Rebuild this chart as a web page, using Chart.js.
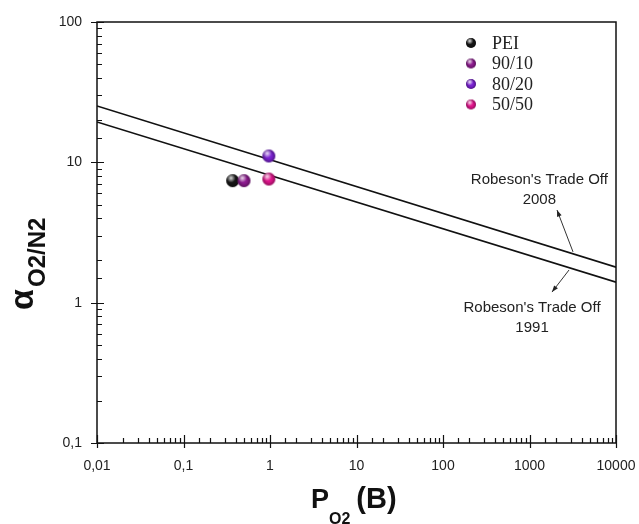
<!DOCTYPE html>
<html>
<head>
<meta charset="utf-8">
<script src="https://cdn.jsdelivr.net/npm/chart.js@4.4.1/dist/chart.umd.min.js"></script>
<style>
  html, body { margin: 0; padding: 0; background: #fff; }
  #wrap { width: 639px; height: 524px; }
</style>
</head>
<body>
<div id="wrap"><canvas id="chart" width="639" height="524"></canvas></div>
<script>
// datos
const sampleNames = ['PEI', '90/10', '80/20', '50/50'];
const sampleP = [0.37, 0.50, 0.97, 0.97];      // P O2 (Barrer)
const sampleAlpha = [7.4, 7.4, 11.1, 7.6];     // alfa O2/N2

const robeson1991P = [0.01, 10000];
const robeson1991Alpha = [19.4, 1.40];
const robeson2008P = [0.01, 10000];
const robeson2008Alpha = [25.2, 1.79];

const xTickValues = [0.01, 0.1, 1, 10, 100, 1000, 10000];
const xTickLabels = ['0,01', '0,1', '1', '10', '100', '1000', '10000'];
const yTickValues = [0.1, 1, 10, 100];
const yTickLabels = ['0,1', '1', '10', '100'];

// anotaciones (texto y flechas, en coordenadas de datos)
const note2008 = { text: ["Robeson's Trade Off", '2008'], p: 1300, a: 7.5, from: [3185, 2.30], to: [2080, 4.57] };
const note1991 = { text: ["Robeson's Trade Off", '1991'], p: 1070, a: 0.915, from: [2865, 1.71], to: [1820, 1.19] };

const sampleColors = ['#151515', '#8c1a8e', '#7b22d2', '#e0158c'];
const SANS = '"Liberation Sans", Arial, sans-serif';

function makeSphere(color, r) {
    const c = document.createElement('canvas');
    const s = Math.ceil(r * 2 + 2);
    c.width = c.height = s;
    const g = c.getContext('2d');
    const cx = s / 2, cy = s / 2;
    g.beginPath();
    g.arc(cx, cy, r, 0, Math.PI * 2);
    g.fillStyle = color;
    g.fill();
    // sombra en el borde
    let grad = g.createRadialGradient(cx, cy, r * 0.4, cx, cy, r);
    grad.addColorStop(0, 'rgba(0,0,0,0)');
    grad.addColorStop(1, 'rgba(0,0,0,0.35)');
    g.fillStyle = grad;
    g.fill();
    // brillo
    grad = g.createRadialGradient(cx - r * 0.25, cy - r * 0.4, 0, cx - r * 0.25, cy - r * 0.4, r * 0.7);
    grad.addColorStop(0, 'rgba(255,255,255,0.85)');
    grad.addColorStop(1, 'rgba(255,255,255,0)');
    g.fillStyle = grad;
    g.fill();
    return c;
}

const pointImgs = sampleColors.map(c => makeSphere(c, 6.5));
const legendImgs = sampleColors.map(c => makeSphere(c, 5));

function isMajor(v) {
    const l = Math.log10(v);
    return Math.abs(l - Math.round(l)) < 1e-6;
}

function labelFor(v, values, labels) {
    const i = values.findIndex(t => Math.abs(Math.log10(t) - Math.log10(v)) < 1e-6);
    return i >= 0 ? labels[i] : '';
}

// marco, marcas de los ejes, leyenda y titulos
const decorPlugin = {
    id: 'decor',
    afterDraw(chart) {
        const ctx = chart.ctx;
        const area = chart.chartArea;
        const xs = chart.scales.x, ys = chart.scales.y;
        ctx.save();
        ctx.strokeStyle = '#111';
        ctx.lineWidth = 1.5;
        ctx.strokeRect(area.left, area.top, area.right - area.left, area.bottom - area.top);

        ctx.lineWidth = 1.2;
        ctx.beginPath();
        ys.ticks.forEach(t => {
            const py = Math.round(ys.getPixelForValue(t.value)) + 0.5;
            if (isMajor(t.value)) {
                ctx.moveTo(area.left - 6, py); ctx.lineTo(area.left + 7, py);
            } else {
                ctx.moveTo(area.left, py); ctx.lineTo(area.left + 5, py);
            }
        });
        xs.ticks.forEach(t => {
            const px = Math.round(xs.getPixelForValue(t.value)) + 0.5;
            if (isMajor(t.value)) {
                ctx.moveTo(px, area.bottom + 5); ctx.lineTo(px, area.bottom - 8);
            } else {
                ctx.moveTo(px, area.bottom); ctx.lineTo(px, area.bottom - 5);
            }
        });
        ctx.stroke();

        // anotaciones
        ctx.fillStyle = '#222';
        ctx.font = '15px ' + SANS;
        ctx.textAlign = 'center';
        ctx.textBaseline = 'middle';
        [note2008, note1991].forEach(n => {
            const px = xs.getPixelForValue(n.p), py = ys.getPixelForValue(n.a);
            n.text.forEach((s, i) => ctx.fillText(s, px, py + i * 20));
            const x1 = xs.getPixelForValue(n.from[0]), y1 = ys.getPixelForValue(n.from[1]);
            const x2 = xs.getPixelForValue(n.to[0]), y2 = ys.getPixelForValue(n.to[1]);
            ctx.strokeStyle = '#333';
            ctx.lineWidth = 1;
            ctx.beginPath();
            ctx.moveTo(x1, y1); ctx.lineTo(x2, y2);
            ctx.stroke();
            const ang = Math.atan2(y2 - y1, x2 - x1);
            ctx.beginPath();
            ctx.moveTo(x2, y2);
            ctx.lineTo(x2 - 7 * Math.cos(ang - 0.35), y2 - 7 * Math.sin(ang - 0.35));
            ctx.lineTo(x2 - 7 * Math.cos(ang + 0.35), y2 - 7 * Math.sin(ang + 0.35));
            ctx.closePath();
            ctx.fill();
        });

        // leyenda
        ctx.font = '18px "Liberation Serif", "Times New Roman", serif';
        ctx.textAlign = 'left';
        sampleNames.forEach((name, i) => {
            const mx = area.left + 374, my = area.top + 21 + i * 20.5;
            const img = legendImgs[i];
            ctx.drawImage(img, mx - img.width / 2, my - img.height / 2);
            ctx.fillStyle = '#222';
            ctx.fillText(name, mx + 21, my + 1);
        });

        // titulo eje y
        ctx.fillStyle = '#111';
        ctx.textBaseline = 'alphabetic';
        ctx.save();
        ctx.translate(33, 310);
        ctx.rotate(-Math.PI / 2);
        ctx.font = 'bold 34px ' + SANS;
        ctx.fillText('\u03b1', 0, 0);
        ctx.font = 'bold 24px ' + SANS;
        ctx.fillText('O2/N2', 23, 12);
        ctx.restore();

        // titulo eje x
        let x = 311;
        ctx.font = 'bold 27px ' + SANS;
        ctx.fillText('P', x, 508);
        x += ctx.measureText('P').width;
        ctx.font = 'bold 16px ' + SANS;
        ctx.fillText('O2', x, 524);
        x += ctx.measureText('O2').width + 6;
        ctx.font = 'bold 29px ' + SANS;
        ctx.fillText('(B)', x, 508);
        ctx.restore();
    }
};

const lineStyle = { borderColor: '#111', borderWidth: 1.6, pointRadius: 0, showLine: true, fill: false, order: 10 };

new Chart(document.getElementById('chart'), {
    type: 'scatter',
    data: {
        datasets: [
            Object.assign({ label: "Robeson's Trade Off 2008",
                data: robeson2008P.map((p, i) => ({ x: p, y: robeson2008Alpha[i] })) }, lineStyle),
            Object.assign({ label: "Robeson's Trade Off 1991",
                data: robeson1991P.map((p, i) => ({ x: p, y: robeson1991Alpha[i] })) }, lineStyle),
            ...sampleNames.map((name, i) => ({
                label: name,
                data: [{ x: sampleP[i], y: sampleAlpha[i] }],
                pointStyle: pointImgs[i],
                order: 5 - i
            }))
        ]
    },
    options: {
        responsive: false,
        animation: false,
        layout: { padding: { left: 0, right: 23, top: 22, bottom: 0 } },
        plugins: { legend: { display: false }, tooltip: { enabled: false } },
        scales: {
            x: {
                type: 'logarithmic',
                min: 0.01, max: 10000,
                grid: { display: false },
                border: { display: false },
                afterFit(s) { s.height = 81; s.paddingLeft = 0; s.paddingRight = 0; },
                ticks: {
                    autoSkip: false, maxRotation: 0, padding: 7,
                    color: '#222', font: { family: SANS, size: 14 },
                    callback: v => labelFor(v, xTickValues, xTickLabels)
                }
            },
            y: {
                type: 'logarithmic',
                min: 0.1, max: 100,
                grid: { display: false },
                border: { display: false },
                afterFit(s) { s.width = 97; s.paddingTop = 0; s.paddingBottom = 0; },
                ticks: {
                    autoSkip: false, padding: 7,
                    color: '#222', font: { family: SANS, size: 14 },
                    callback: v => labelFor(v, yTickValues, yTickLabels)
                }
            }
        }
    },
    plugins: [decorPlugin]
});
</script>
</body>
</html>
